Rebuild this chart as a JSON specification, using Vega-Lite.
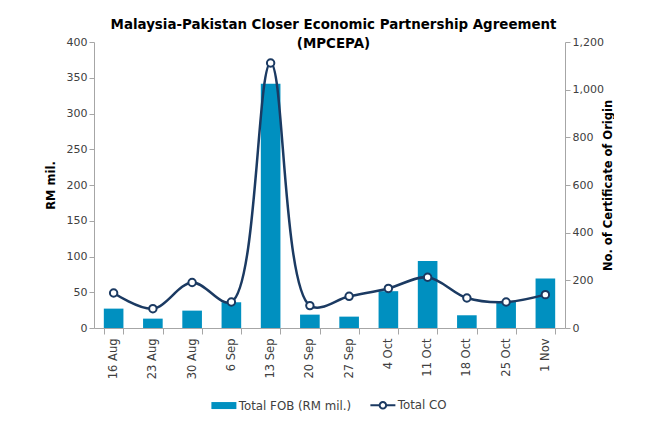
{
  "$schema": "https://vega.github.io/schema/vega-lite/v6.json",
  "width": 471,
  "height": 286,
  "padding": {"left": 45, "right": 0, "top": 17, "bottom": 0},
  "background": "white",
  "config": {
    "font": "DejaVu Sans",
    "view": {"stroke": null},
    "axis": {"labelFont": "DejaVu Sans", "labelColor": "#404040", "labelFontSize": 11, "domainColor": "#A6A6A6", "tickColor": "#A6A6A6", "grid": false, "titleFont": "DejaVu Sans", "titleFontWeight": "bold", "titleColor": "#000000", "titleFontSize": 11.5}
  },
  "title": {
    "text": ["Malaysia-Pakistan Closer Economic Partnership  Agreement", "(MPCEPA)"],
    "fontSize": 13.4,
    "fontWeight": "bold",
    "color": "#000000",
    "anchor": "middle",
    "lineHeight": 19,
    "offset": -14,
    "dx": 4
  },
  "data": {
    "values": [
      {"week": "16 Aug", "fob": 27.1, "co": 147},
      {"week": "23 Aug", "fob": 13.1, "co": 81},
      {"week": "30 Aug", "fob": 24.3, "co": 191},
      {"week": "6 Sep", "fob": 36, "co": 109},
      {"week": "13 Sep", "fob": 341.5, "co": 1112},
      {"week": "20 Sep", "fob": 18.7, "co": 94},
      {"week": "27 Sep", "fob": 15.9, "co": 133},
      {"week": "4 Oct", "fob": 51.5, "co": 166},
      {"week": "11 Oct", "fob": 93.6, "co": 213},
      {"week": "18 Oct", "fob": 17.8, "co": 126},
      {"week": "25 Oct", "fob": 37.5, "co": 109},
      {"week": "1 Nov", "fob": 69.3, "co": 140}
    ]
  },
  "encoding": {
    "x": {
      "field": "week",
      "type": "ordinal",
      "sort": null,
      "scale": {"paddingInner": 0.5, "paddingOuter": 0.25},
      "axis": {"title": null, "labelAngle": 270, "tickBand": "extent", "tickSize": 6, "labelPadding": 4, "labelFontSize": 11.5}
    }
  },
  "layer": [
    {
      "mark": {"type": "bar", "color": "#0090C0"},
      "encoding": {
        "y": {
          "field": "fob",
          "type": "quantitative",
          "scale": {"domain": [0, 400]},
          "axis": {"title": "RM mil.", "values": [0, 50, 100, 150, 200, 250, 300, 350, 400], "tickSize": 5, "titlePadding": 10}
        },
        "color": {
          "datum": "Total FOB (RM mil.)",
          "type": "nominal",
          "scale": {"domain": ["Total FOB (RM mil.)", "Total CO"], "range": ["#0090C0", "#1B3A62"]},
          "legend": {
            "title": null,
            "orient": "none",
            "legendX": 124,
            "legendY": 357,
            "direction": "horizontal",
            "labelFontSize": 11.8,
            "labelColor": "#404040",
            "labelFont": "DejaVu Sans",
            "symbolSize": 625,
            "labelOffset": 9,
            "columnPadding": 14,
            "encode": {
              "symbols": {
                "update": {
                  "shape": {"signal": "datum.value === 'Total CO' ? 'M-1,0H-0.26M0.26,0H1M0.26,0A0.26,0.26 0 1 1 -0.26,0A0.26,0.26 0 1 1 0.26,0M0.26,0A0.26,0.26 0 1 0 -0.26,0A0.26,0.26 0 1 0 0.26,0' : 'M-1,-0.28H1V0.28H-1Z'"},
                  "size": {"value": 625},
                  "fill": {"signal": "datum.value === 'Total CO' ? '#ffffff' : '#0090C0'"},
                  "fillOpacity": {"value": 1},
                  "stroke": {"signal": "datum.value === 'Total CO' ? '#1B3A62' : null"},
                  "strokeWidth": {"signal": "datum.value === 'Total CO' ? 2 : 0"},
                  "opacity": {"value": 1}
                }
              }
            }
          }
        }
      }
    },
    {
      "layer": [
        {
          "mark": {"type": "line", "interpolate": "catmull-rom", "strokeWidth": 2.5},
          "encoding": {
            "y": {
              "field": "co",
              "type": "quantitative",
              "scale": {"domain": [0, 1200]},
              "axis": {"orient": "right", "title": "No. of Certificate of Origin", "format": ",.0f", "values": [0, 200, 400, 600, 800, 1000, 1200], "titleAngle": 270, "tickSize": 5, "titlePadding": 10}
            },
            "color": {"datum": "Total CO", "type": "nominal"}
          }
        },
        {
          "mark": {"type": "point", "filled": true, "fill": "#ffffff", "stroke": "#1B3A62", "strokeWidth": 2, "size": 55, "opacity": 1},
          "encoding": {
            "y": {"field": "co", "type": "quantitative", "scale": {"domain": [0, 1200]}}
          }
        }
      ]
    }
  ],
  "resolve": {"scale": {"y": "independent"}}
}
